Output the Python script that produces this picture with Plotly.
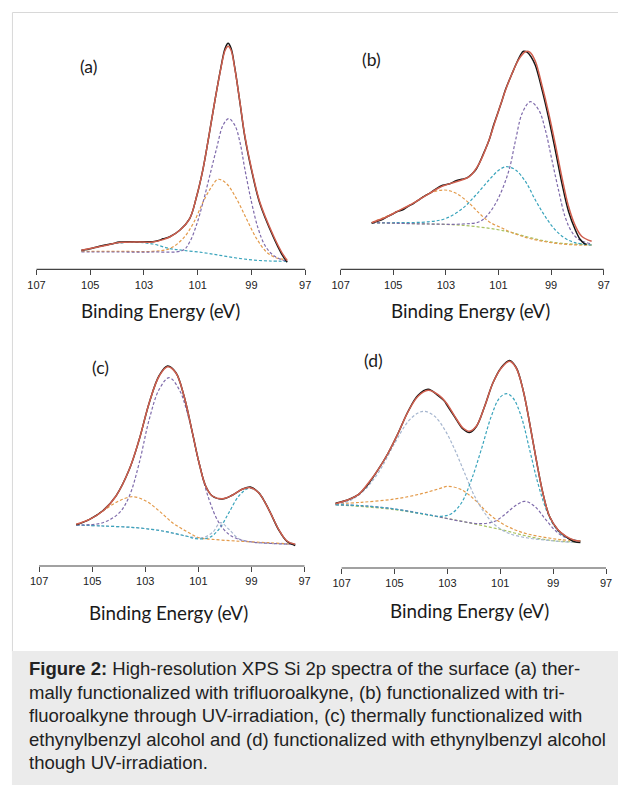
import plotly.graph_objects as go

W, H = 618, 785

# ---------------- data (binding energy in eV, intensity in arbitrary units) ----------------
tick_vals = [107, 105, 103, 101, 99, 97]
tick_text = ["107", "105", "103", "101", "99", "97"]
axis_title = "Binding Energy (eV)"

# Panel (a)
a_data_x = [105.33, 105.0, 104.53, 104.2, 103.91, 103.5, 103.29, 102.9, 102.67, 102.45, 102.29, 102.04, 101.67, 101.30, 101.05, 100.80, 100.58, 100.37, 100.14, 99.98, 99.87, 99.76, 99.62, 99.43, 99.25, 99.00, 98.69, 98.19, 97.88, 97.67]
a_data_y = [19, 20.5, 23.8, 25.5, 27.2, 27.6, 27.4, 27.6, 27.5, 28.8, 30.5, 32.6, 39, 50.7, 72, 100.7, 134, 167.3, 201.5, 221, 226, 221, 201.5, 167, 133, 99.5, 66, 32.5, 15.5, 7]
a_fit_x = [105.33, 104.53, 103.91, 103.29, 102.67, 102.29, 102.04, 101.67, 101.30, 101.05, 100.80, 100.58, 100.37, 100.14, 99.98, 99.87, 99.76, 99.62, 99.43, 99.25, 99.00, 98.69, 98.19, 97.88, 97.67]
a_fit_y = [19, 23.3, 26.7, 27.3, 27.3, 29.7, 32.3, 39, 50.7, 72, 100.7, 134, 167.3, 200.7, 219, 223, 219, 200.7, 167.3, 134, 100.7, 67.3, 34, 17.3, 8.7]
a_or_x = [105.33, 103.91, 102.67, 102.04, 101.55, 101.17, 100.80, 100.49, 100.24, 99.93, 99.56, 99.19, 98.81, 98.44, 98.07, 97.67]
a_or_y = [18, 18, 18, 20.7, 30.7, 45.7, 67.3, 82.3, 90, 85.7, 70.7, 50.7, 30.7, 17.3, 11.3, 10]
a_pu_x = [105.33, 103.91, 102.67, 101.55, 101.30, 101.05, 100.80, 100.55, 100.30, 100.06, 99.85, 99.62, 99.43, 99.25, 99.00, 98.75, 98.50, 98.19, 97.82, 97.67]
a_pu_y = [17.3, 17.3, 17.3, 19, 27.3, 44, 67.3, 94, 120.7, 144, 150.7, 144, 127.3, 100.7, 67.3, 40.7, 24, 14, 9, 8]
a_cy_x = [105.33, 104.53, 103.91, 103.29, 102.67, 102.04, 101.55, 100.80, 100.18, 99.56, 98.94, 98.32, 97.67]
a_cy_y = [18, 23.3, 26.3, 27, 25.3, 20.7, 19, 16.7, 14, 11.3, 9.3, 8.3, 8]

# Panel (b)
b_data_x = [105.82, 105.6, 105.4, 105.2, 105.0, 104.87, 104.6, 104.4, 104.25, 104.0, 103.8, 103.62, 103.4, 103.12, 102.85, 102.61, 102.4, 102.2, 102.0, 101.85, 101.73, 101.55, 101.36, 101.2, 101.11, 100.9, 100.73, 100.48, 100.3, 100.15, 100.05, 99.9, 99.75, 99.6, 99.35, 99.10, 98.84, 98.59, 98.34, 98.09, 97.9, 97.75, 97.65]
b_data_y = [46, 48.0, 50, 53, 55.5, 57.5, 60, 63.5, 65.5, 70, 73.5, 76, 80, 84, 85.5, 88.5, 90, 91.5, 95.5, 100, 106, 117, 129, 143, 150, 166, 180, 196, 207, 215, 218, 217, 212, 204, 180, 152, 119, 86, 58, 40, 30, 26, 25]
b_fit_x = [105.82, 105.2, 104.87, 104.25, 103.62, 103.12, 102.61, 102.11, 101.73, 101.36, 101.11, 100.73, 100.48, 100.23, 99.98, 99.80, 99.60, 99.35, 99.10, 98.84, 98.59, 98.34, 98.09, 97.84, 97.46]
b_fit_y = [46.6, 53, 57.6, 66, 76, 83.3, 87.6, 92.6, 106, 129.3, 149.3, 179.3, 196, 210, 217.6, 217, 208, 184, 157, 125, 92, 63, 44, 33, 28]
b_or_x = [105.82, 104.87, 104.25, 103.62, 103.05, 102.61, 102.11, 101.73, 101.36, 100.85, 100.48, 99.85, 99.22, 98.59, 97.96, 97.46]
b_or_y = [46.6, 57.6, 66, 76, 79.3, 76, 66, 56, 47.6, 41, 36.6, 31, 27.6, 25.3, 24.3, 24.3]
b_cy_x = [105.82, 104.87, 103.62, 102.99, 102.36, 101.86, 101.36, 100.98, 100.70, 100.35, 99.97, 99.60, 99.22, 98.84, 98.47, 98.09, 97.46]
b_cy_y = [46.6, 46.6, 47.6, 51, 61, 74.3, 89.3, 99.3, 102.6, 99.3, 87.6, 69.3, 52.6, 39.3, 31, 26.6, 24.3]
b_pu_x = [105.82, 104.87, 103.62, 102.36, 101.73, 101.36, 100.98, 100.60, 100.35, 100.10, 99.79, 99.47, 99.22, 98.97, 98.72, 98.47, 98.22, 97.96, 97.46]
b_pu_y = [46.6, 46, 45.3, 45.3, 47.6, 56, 72.6, 99.3, 129.3, 156, 167.6, 159.3, 139.3, 109.3, 79.3, 52.6, 37.6, 30, 25.3]
b_bg_x = [105.82, 103.62, 102.36, 101.11, 100.48, 99.85, 99.22, 98.59, 97.46]
b_bg_y = [46.6, 45.3, 44, 40, 36.6, 32, 28.3, 26, 24.3]

# Panel (c)
c_data_x = [105.6, 105.1, 104.6, 104.1, 103.6, 103.225, 102.85, 102.475, 102.16, 101.85, 101.54, 101.225, 100.975, 100.725, 100.475, 100.1, 99.725, 99.35, 99.04, 98.725, 98.35, 97.975, 97.66, 97.35]
c_data_y = [41.2, 46.7, 55.3, 70.2, 96.7, 126.7, 163.3, 190.5, 200, 193.5, 170, 133.3, 103.3, 80, 70, 67, 70.7, 76.7, 79, 73.3, 56.7, 36.2, 24.5, 20.5]
c_fit_x = [105.6, 105.1, 104.6, 104.1, 103.6, 103.225, 102.85, 102.475, 102.16, 101.85, 101.54, 101.225, 100.975, 100.725, 100.475, 100.1, 99.725, 99.35, 99.04, 98.725, 98.35, 97.975, 97.66, 97.35]
c_fit_y = [41.7, 46.7, 55, 70, 96.7, 126.7, 163.3, 190, 199.3, 193.3, 170, 133.3, 103.3, 80, 70, 67.3, 70.7, 76.7, 78.3, 73.3, 56.7, 36.7, 25, 21.7]
c_pu_x = [105.6, 104.6, 103.975, 103.6, 103.225, 102.85, 102.475, 102.1, 101.725, 101.35, 100.975, 100.6, 100.225, 99.85, 99.475, 98.975, 98.35, 97.35]
c_pu_y = [41, 43.3, 53.3, 70, 103.3, 146.7, 176.7, 188.3, 176.7, 146.7, 103.3, 66.7, 43.3, 31.7, 26.7, 24, 22.7, 21.7]
c_or_x = [105.6, 105.1, 104.6, 104.0, 103.475, 102.975, 102.475, 101.975, 101.475, 100.975, 100.475, 99.6, 98.35, 97.35]
c_or_y = [41.7, 46.7, 55, 65, 69.3, 65, 55, 43.3, 35, 28.3, 26.7, 25, 23.3, 21.7]
c_cy_x = [105.6, 104.6, 103.35, 102.35, 101.475, 101.1, 100.6, 100.225, 99.85, 99.475, 99.1, 98.725, 98.35, 97.975, 97.66, 97.35]
c_cy_y = [41, 40, 38.3, 35, 30, 27.3, 28.3, 36.7, 53.3, 70, 77.7, 73.3, 56.7, 36.7, 25, 21.7]
c_lb_x = [105.6, 104.6, 103.35, 102.35, 101.475, 100.85, 100.475, 100.16, 99.85, 99.475, 98.975, 97.35]
c_lb_y = [41, 40, 38.3, 35, 30, 28.3, 33.3, 43.3, 36.7, 27.3, 24, 21.7]

# Panel (d)
d_data_x = [107.23, 106.75, 106.37, 106.1, 105.99, 105.62, 105.24, 104.86, 104.48, 104.11, 103.73, 103.35, 103.1, 103.04, 102.72, 102.41, 102.16, 101.91, 101.59, 101.28, 100.96, 100.65, 100.40, 100.14, 99.89, 99.64, 99.39, 99.14, 98.82, 98.51, 98.19, 97.97]
d_data_y = [64.8, 68.3, 73.3, 80.5, 84, 98.3, 115, 135, 157, 172.7, 178.7, 172.3, 166.6, 164, 151, 139, 135.6, 141.2, 161.7, 185, 200.5, 207.5, 200.5, 178.3, 145, 108.3, 75, 51.7, 38, 31.2, 26.2, 25.4]
d_fit_x = [107.23, 106.75, 106.37, 105.99, 105.62, 105.24, 104.86, 104.48, 104.11, 103.73, 103.35, 103.04, 102.72, 102.41, 102.16, 101.91, 101.59, 101.28, 100.96, 100.65, 100.40, 100.14, 99.89, 99.64, 99.39, 99.14, 98.82, 98.51, 98.19, 97.97]
d_fit_y = [64.3, 68.3, 73.3, 85, 98.3, 115, 135, 156.7, 171.7, 177.7, 173.3, 165, 151.7, 140, 136.7, 141.7, 161.7, 185, 200, 206.7, 200, 178.3, 145, 108.3, 75, 51.7, 38.3, 31.7, 27.7, 26.7]
d_lb_x = [107.23, 106.75, 106.25, 105.62, 104.99, 104.48, 104.11, 103.86, 103.48, 103.10, 102.72, 102.35, 101.97, 101.59, 101.21, 100.71, 99.96, 99.20, 98.70, 97.97]
d_lb_y = [63.3, 66.7, 75, 95, 125, 146.7, 155, 156.7, 151.7, 138.3, 118.3, 95, 71.7, 55, 43.3, 35, 30, 27.7, 26.3, 25.7]
d_cy_x = [107.23, 106.25, 104.99, 103.98, 103.23, 102.85, 102.47, 102.09, 101.72, 101.34, 101.03, 100.77, 100.52, 100.21, 99.89, 99.58, 99.26, 98.95, 98.57, 97.97]
d_cy_y = [63.3, 62.3, 59, 54.3, 51.7, 54.3, 65, 88.3, 118.3, 151.7, 170, 174.3, 170, 151.7, 118.3, 85, 58.3, 41.7, 31.7, 26.7]
d_or_x = [107.23, 106.25, 104.99, 103.98, 103.35, 102.97, 102.47, 101.97, 101.47, 100.96, 100.46, 99.96, 99.33, 98.70, 97.97]
d_or_y = [64.3, 65.7, 69, 74.3, 79, 81.7, 78.3, 68.3, 55, 45, 38.3, 34, 30.7, 28.3, 27.3]
d_pu_x = [107.23, 106.25, 104.99, 103.73, 102.47, 101.72, 101.21, 100.84, 100.46, 100.08, 99.70, 99.33, 98.95, 98.57, 97.97]
d_pu_y = [63.3, 62.3, 59, 53.3, 46.7, 44.3, 46.7, 53.3, 61.7, 66.7, 61.7, 50, 38.3, 31, 26.7]
d_bg_x = [107.23, 104.99, 103.10, 101.84, 100.96, 100.21, 99.45, 98.70, 97.97]
d_bg_y = [63.3, 58.3, 50, 43.3, 38.3, 33.3, 29, 26.7, 26]

caption_lines = [
    "<b>Figure 2:</b> High-resolution XPS Si 2p spectra of the surface (a) ther-",
    "mally functionalized with trifluoroalkyne, (b) functionalized with tri-",
    "fluoroalkyne through UV-irradiation, (c) thermally functionalized with",
    "ethynylbenzyl alcohol and (d) functionalized with ethynylbenzyl alcohol",
    "though UV-irradiation.",
]

# ---------------- styles ----------------
PURPLE = "#7f6bab"
ORANGE = "#e39a4a"
CYAN = "#3aa4bc"
LBLUE = "#a6b6cf"
GREEN = "#a8c362"
RED = "#d05f4e"
BLACK = "#151515"
AXIS = "#444444"
DASH = "3px,2px"

TICK_FONT = dict(family="Liberation Sans Narrow, Arial Narrow, Liberation Sans, Arial", size=11, color="#222")
TITLE_FONT = dict(family="Lato, Open Sans, sans-serif", size=18.8, color="#1a1a1a")
LABEL_FONT = dict(family="Lato, Open Sans, sans-serif", size=17.5, color="#1a1a1a")

# pixel layout of each panel: x of 107 eV, x of 97 eV, axis line y, top y, label pos, title pos
panels = [
    dict(name="a", x107=36.7, x97=306.7, axis=269.3, top=30, lab=(89, 67), tit=(161, 310)),
    dict(name="b", x107=342.3, x97=606.7, axis=269.3, top=30, lab=(373.5, 59.5), tit=(473, 310)),
    dict(name="c", x107=39.3, x97=306.0, axis=566, top=330, lab=(100.5, 367.5), tit=(169, 612)),
    dict(name="d", x107=343.3, x97=609.0, axis=568, top=330, lab=(375.5, 360), tit=(472, 610)),
]

series = {
    "a": [(a_cy_x, a_cy_y, CYAN, True), (a_or_x, a_or_y, ORANGE, True), (a_pu_x, a_pu_y, PURPLE, True),
          (a_data_x, a_data_y, BLACK, False), (a_fit_x, a_fit_y, RED, False)],
    "b": [(b_bg_x, b_bg_y, GREEN, True), (b_or_x, b_or_y, ORANGE, True), (b_cy_x, b_cy_y, CYAN, True),
          (b_pu_x, b_pu_y, PURPLE, True), (b_data_x, b_data_y, BLACK, False), (b_fit_x, b_fit_y, RED, False)],
    "c": [(c_lb_x, c_lb_y, LBLUE, True), (c_or_x, c_or_y, ORANGE, True), (c_cy_x, c_cy_y, CYAN, True),
          (c_pu_x, c_pu_y, PURPLE, True), (c_data_x, c_data_y, BLACK, False), (c_fit_x, c_fit_y, RED, False)],
    "d": [(d_bg_x, d_bg_y, GREEN, True), (d_pu_x, d_pu_y, PURPLE, True), (d_or_x, d_or_y, ORANGE, True),
          (d_lb_x, d_lb_y, LBLUE, True), (d_cy_x, d_cy_y, CYAN, True),
          (d_data_x, d_data_y, BLACK, False), (d_fit_x, d_fit_y, RED, False)],
}

fig = go.Figure()
layout = dict(width=W, height=H, margin=dict(l=0, r=0, t=0, b=0), paper_bgcolor="white",
              plot_bgcolor="rgba(0,0,0,0)", showlegend=False)
shapes = []
annotations = []

R0, R1 = 107.35, 96.9
for i, p in enumerate(panels, start=1):
    sfx = "" if i == 1 else str(i)
    ppe = (p["x97"] - p["x107"]) / 10.0
    left = p["x107"] + (107 - R0) * ppe
    right = p["x107"] + (107 - R1) * ppe
    layout["xaxis" + sfx] = dict(
        domain=[left / W, right / W], range=[R0, R1], showgrid=False, zeroline=False,
        showline=False, ticks="outside", ticklen=5, tickwidth=1, tickcolor=AXIS,
        tickvals=tick_vals, ticktext=tick_text, tickfont=TICK_FONT, anchor="y" + sfx, fixedrange=True)
    layout["yaxis" + sfx] = dict(
        domain=[1 - p["axis"] / H, 1 - p["top"] / H], range=[0, p["axis"] - p["top"]],
        visible=False, anchor="x" + sfx, fixedrange=True)
    shapes.append(dict(type="line", xref="x" + sfx, yref="y" + sfx + " domain", x0=107, x1=97, y0=0, y1=0,
                       line=dict(color=AXIS, width=1.2)))
    for xs, ys, col, dashed in series[p["name"]]:
        fig.add_trace(go.Scatter(
            x=xs, y=ys, mode="lines", xaxis="x" + sfx, yaxis="y" + sfx, hoverinfo="skip",
            line=dict(color=col, width=1.2 if dashed else 1.5, dash=DASH if dashed else "solid",
                      shape="spline", smoothing=1.0)))
    annotations.append(dict(text="(" + p["name"] + ")", xref="paper", yref="paper",
                            x=p["lab"][0] / W, y=1 - p["lab"][1] / H, xanchor="center", yanchor="middle",
                            showarrow=False, font=LABEL_FONT))
    annotations.append(dict(text=axis_title, xref="paper", yref="paper",
                            x=p["tit"][0] / W, y=1 - p["tit"][1] / H, xanchor="center", yanchor="middle",
                            showarrow=False, font=TITLE_FONT))

# frame and caption box
shapes.insert(0, dict(type="rect", xref="paper", yref="paper", x0=12.5 / W, x1=1.02, y0=1 - 652 / H, y1=1 - 12.5 / H,
                      line=dict(color="#d8d8d8", width=1), fillcolor="rgba(0,0,0,0)", layer="below"))
shapes.insert(1, dict(type="rect", xref="paper", yref="paper", x0=12 / W, x1=1.02, y0=-0.02, y1=1 - 651 / H,
                      line=dict(width=0), fillcolor="#ebebeb", layer="below"))

cap_y = [668, 692, 715.5, 739, 762]
for txt, yy in zip(caption_lines, cap_y):
    annotations.append(dict(text=txt, xref="paper", yref="paper", x=27 / W, y=1 - yy / H,
                            xanchor="left", yanchor="middle", showarrow=False, align="left",
                            font=dict(family="Liberation Sans, Arial, sans-serif", size=18.5, color="#222")))

layout["shapes"] = shapes
layout["annotations"] = annotations
fig.update_layout(**layout)
fig.write_html("out.html", config={"displayModeBar": False, "staticPlot": True},
               post_script="document.body.style.margin='0';document.body.style.overflow='hidden';")
